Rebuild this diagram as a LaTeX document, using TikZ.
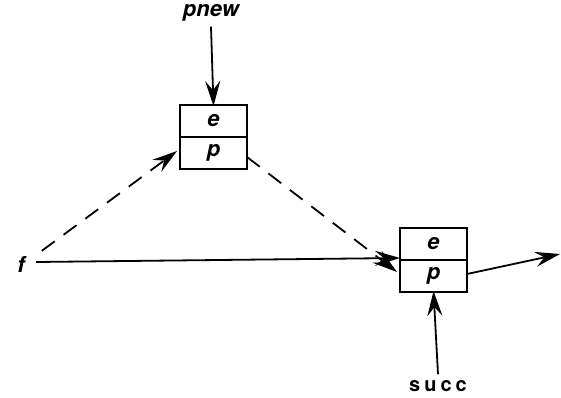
\documentclass[tikz,border=0pt]{standalone}
\usepackage{fontspec}
\setmainfont{TeX Gyre Heros}
\usetikzlibrary{arrows.meta}
\begin{document}
\begin{tikzpicture}[x=1pt,y=-1pt,
  txt/.style={font=\fontsize{22}{24}\selectfont\bfseries\itshape},
  cell/.style={draw,line width=2pt,outer sep=0pt,minimum width=67pt,minimum height=32pt,inner sep=0pt,txt},
  lbl/.style={inner sep=1pt,txt},
  link/.style={line width=1.8pt,-{Stealth[length=25pt,width=15pt,inset=9pt]}},
  dlink/.style={link,dash pattern=on 16pt off 11pt}]
\useasboundingbox (0,0) rectangle (561,397);
% upper record (new element)
\node[cell] (e1) at (213.5,121) {e};
\node[cell,anchor=north] (p1) at (e1.south) {p};
% lower record (successor)
\node[cell] (e2) at (433.5,244) {e};
\node[cell,anchor=north] (p2) at (e2.south) {p};
% labels
\node[lbl] (pnew) at (211,13) {pnew};
\node[lbl] (f) at (21,264) {f};
\node[inner sep=1pt,font=\fontsize{20}{22}\selectfont\bfseries\addfontfeature{LetterSpace=20}] (succ) at (438,386) {succ};
\coordinate (out) at (560,254);
% connectors
\draw[link] (pnew.south) ++(0,4) -- ([yshift=-1pt]e1.north);
\draw[link] (f.east) ++(10,-2) -- ([yshift=2pt]e2.south west);
\draw[dlink] (f.north east) ++(16,-4) -- ([xshift=-3pt,yshift=2pt]p1.west);
\draw[dlink] ([yshift=-4pt]p1.east) -- ([xshift=-3pt,yshift=-12pt]e2.south west);
\draw[link] ([yshift=2pt]p2.east) -- (out);
\draw[link] (succ.north) ++(0,-5) -- ([yshift=1pt]p2.south);
\end{tikzpicture}
\end{document}
